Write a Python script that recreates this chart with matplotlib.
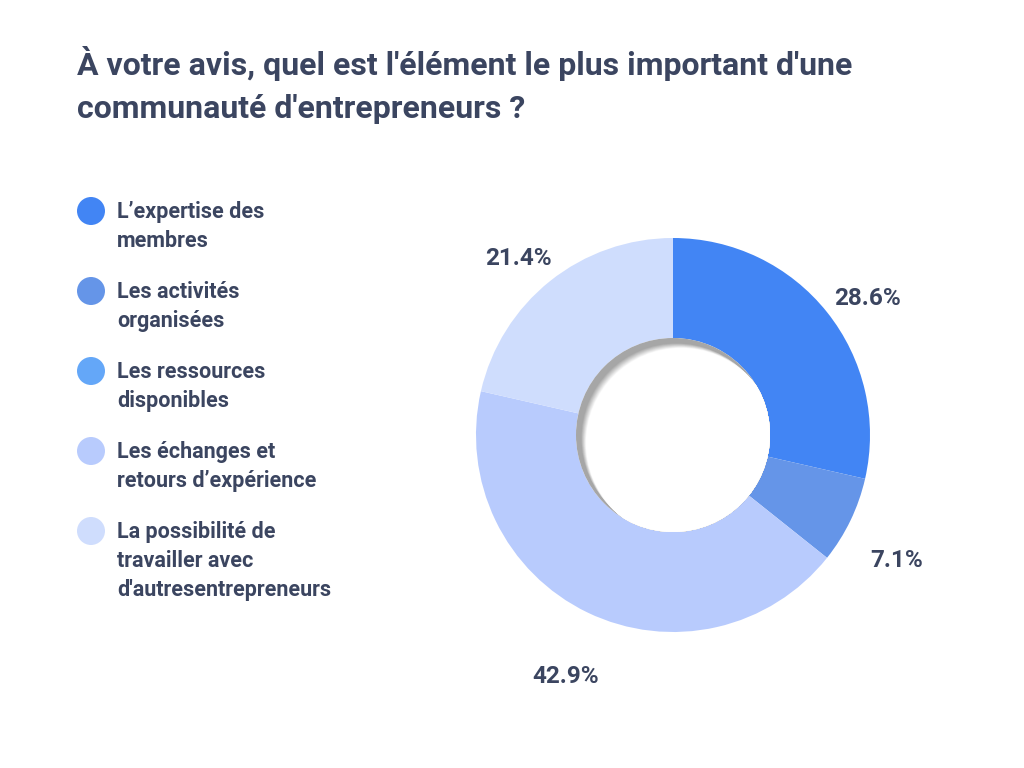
import numpy as np
import matplotlib
matplotlib.use('Agg')
import matplotlib.pyplot as plt
from matplotlib.patches import Circle

plt.rcParams['font.family'] = ['Roboto', 'DejaVu Sans']

title = "À votre avis, quel est l'élément le plus important d'une\ncommunauté d'entrepreneurs ?"
categories = [
    "L’expertise des\nmembres",
    "Les activités\norganisées",
    "Les ressources\ndisponibles",
    "Les échanges et\nretours d’expérience",
    "La possibilité de\ntravailler avec\nd'autresentrepreneurs",
]
counts = [4, 1, 0, 6, 3]
colors = ['#4285f4', '#6595e8', '#64a7f8', '#b8cbfd', '#cfddfd']
txt = '#3b4560'

fig = plt.figure(figsize=(10.24, 7.68), dpi=100)
ax = fig.add_axes([0, 0, 1, 1])

cx, cy = 673, 333
R = 197
r_in = 97

# soft outer shadow, thrown towards the top left
for i in range(60):
    ax.add_patch(Circle((cx - 14, cy + 14), R + 55 - i, color='#000000',
                        alpha=0.0015, lw=0, zorder=0))

wedges, texts, autotexts = ax.pie(
    counts, colors=colors, startangle=90, counterclock=False,
    center=(cx, cy), radius=R,
    wedgeprops=dict(width=R - r_in, linewidth=0),
    autopct=lambda p: f'{p:.1f}%' if p > 0 else '',
    pctdistance=1.26,
    textprops=dict(fontsize=17.5, fontweight='bold', color=txt))
for w in wedges:
    w.set_zorder(2)
for t in autotexts:
    x, y = t.get_position()
    t.set_position((x, y - 18))

# inset shadow in the hole
hole = Circle((cx, cy), r_in, color='#a6a6a6', lw=0, zorder=3)
ax.add_patch(hole)
n = 16
for k in range(n + 1):
    t = k / n
    g = 0.65 + 0.35 * t
    c = Circle((cx + 3 + 5 * t, cy - 3 - 5 * t), r_in - 2, color=(g, g, g),
               lw=0, zorder=4)
    ax.add_patch(c)
    c.set_clip_path(hole)

ax.set_xlim(0, 1024)
ax.set_ylim(0, 768)
ax.set_aspect('equal')
ax.axis('off')

fig.text(77 / 1024, 1 - 46 / 768, title, fontsize=23, fontweight='bold',
         color=txt, va='top', ha='left', linespacing=1.55)

# legend
y = 211
for lab, col in zip(categories, colors):
    nl = lab.count('\n') + 1
    ax.add_patch(Circle((91, 768 - y), 14, color=col, lw=0))
    ax.text(117, 768 - y + 10, lab, fontsize=15.5, fontweight='bold', color=txt,
            ha='left', va='top', linespacing=1.4)
    y += nl * 30 + 20

fig.savefig('out.png', dpi=100, facecolor='white')
